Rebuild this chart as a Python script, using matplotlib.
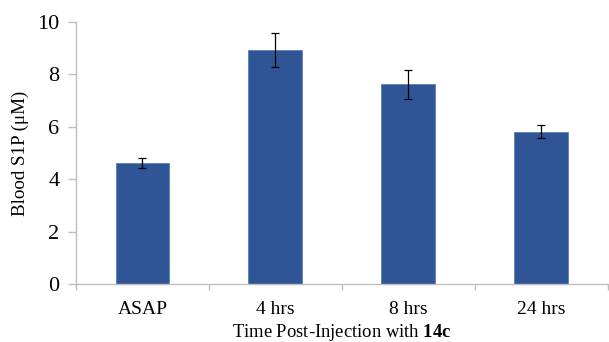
import matplotlib
matplotlib.use("Agg")
import matplotlib.pyplot as plt
import numpy as np

# data
categories = ["ASAP", "4 hrs", "8 hrs", "24 hrs"]
s1p = [4.62, 8.93, 7.62, 5.82]
s1p_err = [0.19, 0.65, 0.55, 0.26]

plt.rcParams["font.family"] = ["Liberation Serif", "DejaVu Serif"]
plt.rcParams["mathtext.fontset"] = "custom"
plt.rcParams["mathtext.rm"] = "Liberation Serif"
plt.rcParams["mathtext.bf"] = "Liberation Serif:bold"

fig = plt.figure(figsize=(6.09, 3.42), dpi=100)
ax = fig.add_axes([0.1248, 0.1696, 0.873, 0.766])

x = np.arange(len(categories))
ax.bar(x, s1p, width=0.405, color="#2F5597", edgecolor="#5A7DBA", linewidth=0.6, zorder=2)
ax.errorbar(x, s1p, yerr=s1p_err, fmt="none", ecolor="black", elinewidth=0.9,
            capsize=3, capthick=0.9, zorder=3)

ax.set_xlim(-0.5, len(categories) - 0.5)
ax.set_ylim(0, 10)
ax.set_yticks([0, 2, 4, 6, 8, 10])
ax.set_xticks(x)
ax.set_xticklabels(categories)
ax.set_xticks(np.arange(-0.5, len(categories), 1.0), minor=True)

for s in ["top", "right"]:
    ax.spines[s].set_visible(False)
for s in ["left", "bottom"]:
    ax.spines[s].set_color("#BFBFBF")
    ax.spines[s].set_linewidth(1.0)

ax.tick_params(axis="y", colors="#BFBFBF", labelcolor="black", length=6, width=1.0,
               labelsize=16, pad=6)
ax.tick_params(axis="x", which="major", length=0, labelsize=14, pad=12)
ax.tick_params(axis="x", which="minor", length=4, width=1.0, color="#BFBFBF")

ax.set_ylabel("Blood S1P (\u03bcM)", fontsize=13.7, labelpad=6)
ax.set_xlabel("Time Post-Injection with $\\mathbf{14c}$", fontsize=13.4, labelpad=3)

fig.savefig("out.png", dpi=100)
